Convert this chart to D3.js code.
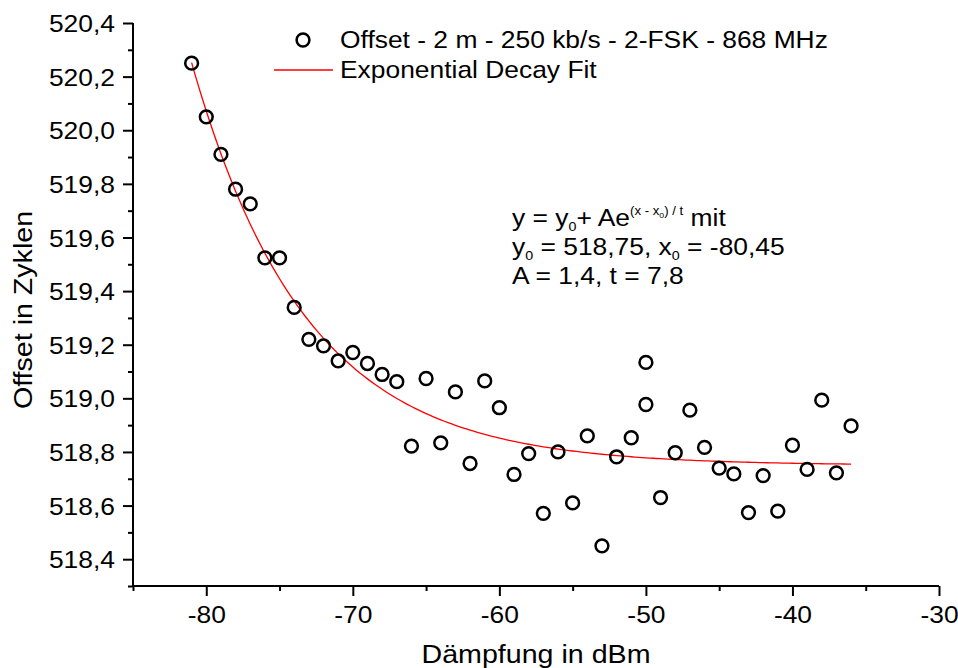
<!DOCTYPE html>
<html>
<head>
<meta charset="utf-8">
<script src="https://cdn.jsdelivr.net/npm/d3@7"></script>
<style>
  body { margin: 0; background: #fff; }
  svg text { font-family: "Liberation Sans", Arial, sans-serif; fill: #000; }
</style>
</head>
<body>
<svg id="chart" width="958" height="668"></svg>
<script>
// measured points (Dämpfung in dBm vs offset in cycles)
const xVals = [-81, -80, -79, -78, -77, -76, -75, -74, -73, -72, -71, -70, -69, -68, -67, -66,
    -65, -64, -63, -62, -61, -60, -59, -58, -57, -56, -55, -54, -53, -52, -51, -50, -50,
    -49, -48, -47, -46, -45, -44, -43, -42, -41, -40, -39, -38, -37, -36];
const yVals = [520.25, 520.05, 519.91, 519.78, 519.725, 519.524, 519.524, 519.339, 519.22, 519.196,
    519.14, 519.171, 519.13, 519.089, 519.062, 518.822, 519.074, 518.834, 519.024, 518.757,
    519.065, 518.965, 518.716, 518.794, 518.571, 518.80, 518.61, 518.86, 518.45, 518.782,
    518.853, 519.134, 518.977, 518.63, 518.797, 518.956, 518.817, 518.74, 518.718, 518.574,
    518.712, 518.579, 518.825, 518.735, 518.993, 518.722, 518.897];

// fit parameters shown on the chart
const fitY0 = 518.75, fitX0 = -80.45, fitA = 1.4, fitT = 7.8;

const xMajor = [-80, -70, -60, -50, -40, -30];
const xMinor = [-85, -75, -65, -55, -45, -35];
const yMajor = [518.4, 518.6, 518.8, 519.0, 519.2, 519.4, 519.6, 519.8, 520.0, 520.2, 520.4];
const yMinor = [518.3, 518.5, 518.7, 518.9, 519.1, 519.3, 519.5, 519.7, 519.9, 520.1, 520.3];

const seriesLabel = 'Offset - 2 m - 250 kb/s - 2-FSK - 868 MHz';
const fitLabel = 'Exponential Decay Fit';

const mLeft = 133, mRight = 939, mTop = 23, mBottom = 586;
const fs = 24;
const sx = 1.1; // the original font runs a bit wide

const svg = d3.select('#chart');

const x = d3.scaleLinear().domain([-85, -30]).range([mLeft, mRight]);
const y = d3.scaleLinear().domain([518.3, 520.4]).range([mBottom, mTop]);

const de = d3.formatLocale({decimal: ',', thousands: '.', grouping: [3], currency: ['', ' €'], minus: '-'});

// put a text at (px, py) and widen it
function wideText(parent, px, py, size) {
    return parent.append('text')
        .attr('transform', 'translate(' + px + ',' + py + ') scale(' + sx + ',1)')
        .attr('font-size', size);
}

// axes
const gx = svg.append('g').attr('transform', 'translate(0,' + mBottom + ')')
    .call(d3.axisBottom(x).tickValues(xMajor).tickSize(10).tickPadding(10).tickFormat(de.format('d')));
const gxm = svg.append('g').attr('transform', 'translate(0,' + mBottom + ')')
    .call(d3.axisBottom(x).tickValues(xMinor).tickSize(5).tickFormat(''));
const gy = svg.append('g').attr('transform', 'translate(' + mLeft + ',0)')
    .call(d3.axisLeft(y).tickValues(yMajor).tickSize(10).tickPadding(6.4).tickFormat(de.format('.1f')));
const gym = svg.append('g').attr('transform', 'translate(' + mLeft + ',0)')
    .call(d3.axisLeft(y).tickValues(yMinor).tickSize(5).tickFormat(''));

[gx, gxm, gy, gym].forEach(g => {
    g.selectAll('path').attr('stroke', '#000').attr('stroke-width', 2);
    g.selectAll('line').attr('stroke', '#000').attr('stroke-width', 2);
    g.selectAll('text')
        .attr('font-size', fs)
        .attr('font-family', '"Liberation Sans", Arial, sans-serif')
        .attr('transform', 'scale(' + sx + ',1)');
});
gy.selectAll('text').attr('dy', '0.36em');
gym.select('path').remove();
gxm.select('path').remove();
gx.select('path').attr('d', 'M' + mLeft + ',0H' + mRight);
gy.select('path').attr('d', 'M0,' + mBottom + 'V' + mTop);

// axis titles
wideText(svg, (mLeft + mRight) / 2, 663, 26)
    .attr('text-anchor', 'middle')
    .text('Dämpfung in dBm');
svg.append('text')
    .attr('transform', 'translate(32,310) rotate(-90) scale(' + sx + ',1)')
    .attr('text-anchor', 'middle').attr('font-size', 26)
    .text('Offset in Zyklen');

// fit curve
const fitX = d3.range(-81, -35.9, 0.25);
const fitLine = d3.line()
    .x(d => x(d))
    .y(d => y(fitY0 + fitA * Math.exp(-(d - fitX0) / fitT)));
svg.append('path')
    .attr('d', fitLine(fitX))
    .attr('fill', 'none')
    .attr('stroke', '#ff0000')
    .attr('stroke-width', 1.3);

// points
svg.append('g').selectAll('circle')
    .data(xVals)
    .enter().append('circle')
    .attr('cx', d => x(d))
    .attr('cy', (d, i) => y(yVals[i]))
    .attr('r', 6.4)
    .attr('fill', 'none')
    .attr('stroke', '#000')
    .attr('stroke-width', 2.5);

// legend
const legend = svg.append('g');
legend.append('circle')
    .attr('cx', 303).attr('cy', 40).attr('r', 6.4)
    .attr('fill', 'none').attr('stroke', '#000').attr('stroke-width', 2.5);
wideText(legend, 340, 48, fs).text(seriesLabel);
legend.append('line')
    .attr('x1', 274).attr('x2', 333).attr('y1', 70).attr('y2', 70)
    .attr('stroke', '#ff0000').attr('stroke-width', 1.3);
wideText(legend, 340, 78, fs).text(fitLabel);

// fit equation
const eq = svg.append('g');
const l1 = wideText(eq, 512, 226, fs);
l1.append('tspan').text('y = y');
l1.append('tspan').attr('font-size', 13).attr('dy', 5).text('0');
l1.append('tspan').attr('dy', -5).text('+ Ae');
l1.append('tspan').attr('font-size', 12).attr('dy', -11).text('(x - x');
l1.append('tspan').attr('font-size', 8).attr('dy', 3).text('0');
l1.append('tspan').attr('font-size', 12).attr('dy', -3).text(') / t');
l1.append('tspan').attr('dy', 11).text('  mit');

const l2 = wideText(eq, 512, 255, fs);
l2.append('tspan').text('y');
l2.append('tspan').attr('font-size', 13).attr('dy', 5).text('0');
l2.append('tspan').attr('dy', -5).text(' = ' + de.format('.2f')(fitY0) + ', x');
l2.append('tspan').attr('font-size', 13).attr('dy', 5).text('0');
l2.append('tspan').attr('dy', -5).text(' = ' + de.format('.2f')(fitX0));

wideText(eq, 512, 284, fs)
    .text('A = ' + de.format('.1f')(fitA) + ', t = ' + de.format('.1f')(fitT));
</script>
</body>
</html>
